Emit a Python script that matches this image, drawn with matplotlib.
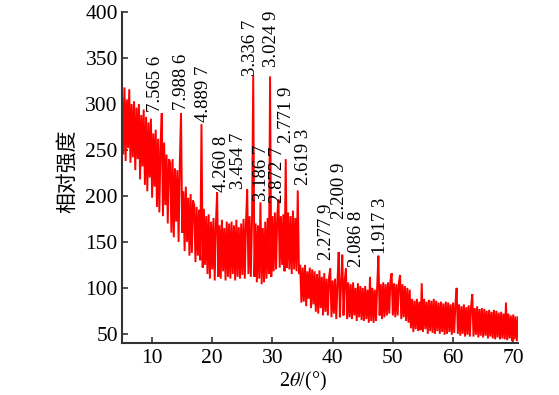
import numpy as np
import matplotlib
matplotlib.use("Agg")
import matplotlib.pyplot as plt

plt.rcParams['font.family'] = ['Liberation Serif', 'DejaVu Serif']
plt.rcParams['mathtext.fontset'] = 'stix'

# XRD scan, step 0.2 deg starting at 5.0 (one row = 2 deg)
START, STEP = 5.0, 0.2
counts = [
    312, 245, 318, 238, 305, 252, 316, 236, 300, 242,
    303, 228, 296, 240, 300, 218, 288, 232, 294, 212,
    286, 205, 280, 220, 284, 198, 268, 210, 272, 188,
    262, 182, 255, 290, 178, 258, 190, 245, 170, 240,
    236, 160, 240, 155, 230, 172, 228, 150, 235, 290,
    160, 205, 140, 210, 150, 198, 135, 202, 138, 195,
    190, 128, 188, 135, 185, 130, 278, 122, 186, 125,
    178, 115, 180, 110, 172, 120, 176, 108, 170, 204,
    112, 168, 110, 174, 118, 165, 108, 172, 112, 170,
    110, 172, 115, 168, 108, 174, 112, 166, 110, 170,
    114, 175, 110, 172, 207, 115, 178, 112, 174, 331,
    112, 170, 106, 168, 110, 193, 104, 165, 106, 172,
    110, 176, 115, 330, 112, 178, 118, 182, 120, 180,
    196, 122, 178, 125, 180, 118, 240, 122, 182, 120,
    178, 115, 184, 120, 176, 118, 206, 115, 125, 84,
    122, 85, 125, 80, 118, 88, 122, 78, 120, 82,
    118, 74, 115, 72, 119, 78, 112, 70, 116, 74,
    110, 70, 112, 121, 68, 108, 72, 110, 66, 106,
    139, 68, 105, 136, 70, 108, 121, 66, 106, 68,
    104, 66, 106, 70, 100, 64, 105, 68, 102, 65,
    100, 64, 102, 66, 98, 62, 112, 64, 100, 62,
    98, 64, 102, 135, 70, 104, 66, 106, 68, 104,
    70, 106, 72, 108, 116, 70, 105, 68, 104, 70,
    106, 114, 66, 104, 68, 102, 64, 100, 62, 98,
    56, 88, 52, 86, 55, 88, 53, 85, 54, 105,
    52, 88, 55, 85, 50, 87, 53, 86, 51, 88,
    50, 86, 53, 84, 50, 85, 52, 83, 49, 85,
    50, 84, 52, 82, 49, 84, 51, 83, 100, 50,
    82, 48, 80, 50, 82, 47, 79, 49, 81, 47,
    80, 93, 47, 78, 49, 80, 46, 77, 48, 78,
    46, 77, 48, 75, 45, 76, 47, 74, 45, 76,
    44, 75, 46, 73, 44, 74, 45, 72, 44, 84,
    43, 72, 45, 70, 42, 71, 44, 69, 42, 68,
]
two_theta = START + STEP * np.arange(len(counts))

# d-spacing labels (text, 2theta, bottom of text)
peak_labels = ["7.565 6", "7.988 6", "4.889 7", "4.260 8", "3.454 7",
               "3.336 7", "3.186 7", "3.024 9", "2.872 7", "2.771 9",
               "2.619 3", "2.277 9", "2.200 9", "2.086 8", "1.917 3"]
label_x = [10.6, 14.8, 18.5, 21.5, 24.3, 26.4, 28.1, 29.9, 30.8, 32.4,
           35.2, 39.0, 41.2, 44.0, 48.0]
label_y = [291, 293, 280, 204, 208, 330, 194, 340, 192, 257, 212, 130,
           175, 123, 137]

fig = plt.figure(figsize=(5.59, 3.95), dpi=100)
ax = fig.add_axes([0.2183, 0.1316, 0.7084, 0.838])

ax.plot(two_theta, counts, color='#ff0000', lw=1.4, solid_joinstyle='miter')

for txt, x, y in zip(peak_labels, label_x, label_y):
    ax.text(x, y, txt, rotation=90, ha='center', va='bottom', fontsize=13.5)

ax.set_xlim(5, 70.8)
ax.set_ylim(40, 400)
ax.set_xticks(range(10, 71, 10))
ax.set_yticks(range(50, 401, 50))
ax.tick_params(direction='in', length=4, width=1.2, labelsize=15.5, color='#333333')
ax.tick_params(axis='y', pad=3)
ax.tick_params(axis='x', pad=4)
for s in ['top', 'right']:
    ax.spines[s].set_visible(False)
for s in ['left', 'bottom']:
    ax.spines[s].set_linewidth(1.5)
    ax.spines[s].set_color('#333333')

ax.set_xlabel(r'2$\theta$/(°)', fontsize=14.5)
ax.xaxis.set_label_coords(0.458, -0.082)
ax.set_ylabel('相对强度', fontsize=15, family=['Noto Sans CJK SC', 'DejaVu Sans'])
ax.yaxis.set_label_coords(-0.11, 0.52)

fig.savefig('out.png', dpi=100)
